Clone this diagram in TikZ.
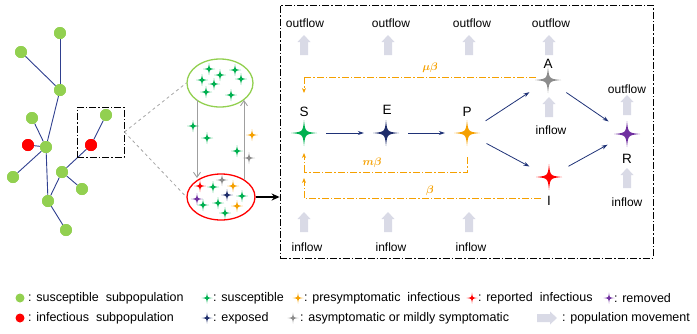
\documentclass[tikz,border=0pt]{standalone}
\usepackage{fontspec}
\setmainfont{Liberation Sans}
\usepackage{bm}
\usetikzlibrary{arrows.meta,calc,shapes.geometric}
\definecolor{sgreen}{HTML}{00B050}
\definecolor{lgreen}{HTML}{92D050}
\definecolor{navy}{HTML}{1F2D6B}
\definecolor{orng}{HTML}{F5A000}
\definecolor{sgray}{HTML}{8C8C8C}
\definecolor{purp}{HTML}{7030A0}
\definecolor{flowc}{HTML}{D9DAE6}
\definecolor{edgec}{HTML}{2F3F8F}
\definecolor{arrc}{HTML}{1F3277}
\begin{document}
\begin{tikzpicture}[x=1pt,y=-1pt,
  fourstar/.pic={\path[pic actions] (0,-1) .. controls (0.09,-0.09) and (0.09,-0.09) .. (1,0) .. controls (0.09,0.09) and (0.09,0.09) .. (0,1) .. controls (-0.09,0.09) and (-0.09,0.09) .. (-1,0) .. controls (-0.09,-0.09) and (-0.09,-0.09) .. cycle;},
  upflow/.pic={\fill[flowc] (-4,0) -- (-4,-13) -- (-6.5,-13) -- (0,-20) -- (6.5,-13) -- (4,-13) -- (4,0) -- cycle;},
  net/.style={draw=edgec, line width=0.9pt},
  sub/.style={circle, inner sep=0pt, minimum size=12pt},
  susc/.style={sub, fill=lgreen},
  infc/.style={sub, fill=red},
  dashdot/.style={dash pattern=on 7pt off 2pt on 1.5pt off 2pt},
  hole/.style={circle, inner sep=0pt, minimum size=44pt},
  lbl/.style={font=\fontsize{12}{14}\selectfont, inner sep=0pt},
  stlbl/.style={font=\fontsize{13.5}{15}\selectfont, inner sep=0pt},
  rate/.style={text=orng, font=\fontsize{11}{13}\selectfont, inner sep=0pt},
  leg/.style={font=\fontsize{12.5}{14}\selectfont, inner sep=0pt, anchor=west},
  flow/.style={draw=arrc, line width=0.8pt, -{Stealth[length=6pt,width=4pt]}},
  oline/.style={draw=orng, line width=0.9pt, dashdot},
  otip/.style={-{Stealth[length=5pt,width=4pt]}},
  garr/.style={draw=gray!75, line width=0.9pt, -{Straight Barb[length=5pt,width=7pt]}}
]
\useasboundingbox (0,0) rectangle (697,333);

% ---------- network ----------
\node[susc] (n1) at (60,33) {};
\node[susc] (n2) at (21,52) {};
\node[susc] (n3) at (60,90) {};
\node[susc] (n4) at (32,118) {};
\node[infc] (n5) at (28,145) {};
\node[susc] (n6) at (46,147) {};
\node[infc] (n7) at (91,145) {};
\node[susc] (n8) at (106,115) {};
\node[susc] (n9) at (13,177) {};
\node[susc] (n10) at (62,172) {};
\node[susc] (n11) at (82,189) {};
\node[susc] (n12) at (48,201) {};
\node[susc] (n13) at (66,230) {};
\draw[net] (n1) -- (n3);
\draw[net] (n2) -- (n3);
\draw[net] (n3) -- (n6);
\draw[net] (n4) -- (n6);
\draw[net] (n5) -- (n6);
\draw[net] (n9) -- (n6);
\draw[net] (n6) -- (n12);
\draw[net] (n12) -- (n10);
\draw[net] (n10) -- (n11);
\draw[net] (n10) -- (n7);
\draw[net] (n7) -- (n8);
\draw[net] (n12) -- (n13);
% redraw nodes on top
\foreach \n/\c in {n1/lgreen,n2/lgreen,n3/lgreen,n4/lgreen,n5/red,n6/lgreen,n7/red,n8/lgreen,n9/lgreen,n10/lgreen,n11/lgreen,n12/lgreen,n13/lgreen}
  \fill[\c] (\n) circle (6pt);

\node[draw, line width=0.8pt, dashdot, minimum width=47pt, minimum height=50pt, inner sep=0pt] (zbox) at (100.5,132) {};

% ---------- ellipses ----------
\node[ellipse, draw=lgreen, line width=1.3pt, minimum width=66pt, minimum height=48pt, inner sep=0pt] (gell) at (220,83) {};
\node[ellipse, draw=red, line width=1.3pt, minimum width=68pt, minimum height=46pt, inner sep=0pt] (rell) at (221,197) {};
\draw[gray!70, line width=0.8pt, dashed] (zbox.east) -- (gell.west);
\draw[gray!70, line width=0.8pt, dashed] (zbox.east) -- (rell.west);

\coordinate (g1) at (197,100);
\coordinate (r1) at (197,178);
\coordinate (g2) at (244,100);
\coordinate (r2) at (244,180);
\draw[garr] (g1) -- (r1);
\draw[garr] (r2) -- (g2);

% stars inside green ellipse
\foreach \p in {(209,69),(220,75),(235,70),(202,80),(214,84),(241,79),(206,92),(231,95)}
  \pic[fill=sgreen, scale=6] at \p {fourstar};
% moving stars
\foreach \p in {(193,126),(207,138),(237,151)}
  \pic[fill=sgreen, scale=6] at \p {fourstar};
\pic[fill=orng, scale=6] at (252,135) {fourstar};
\pic[fill=sgray, scale=6] at (249,158) {fourstar};
% stars inside red ellipse
\pic[fill=red, scale=6] at (200,186) {fourstar};
\pic[fill=sgreen, scale=6] at (213,187) {fourstar};
\pic[fill=sgray, scale=6] at (222,180) {fourstar};
\pic[fill=orng, scale=6] at (233,186) {fourstar};
\pic[fill=purp, scale=6] at (197,199) {fourstar};
\pic[fill=sgreen, scale=6] at (203,205) {fourstar};
\pic[fill=navy, scale=6] at (227,195) {fourstar};
\pic[fill=sgreen, scale=6] at (242,196) {fourstar};
\pic[fill=sgreen, scale=6] at (218,203) {fourstar};
\pic[fill=orng, scale=6] at (237,206) {fourstar};
\pic[fill=sgreen, scale=6] at (225,213) {fourstar};

% ---------- main box ----------
\node[draw, line width=0.8pt, dashdot, minimum width=373pt, minimum height=253pt, inner sep=0pt] (mbox) at (466.5,131.5) {};
\draw[line width=2pt, -{Stealth[length=8pt,width=7pt]}] (rell.east) -- (rell.east -| mbox.west);

% compartments
\node[hole] (S) at (304,133) {};
\node[hole] (E) at (386,133) {};
\node[hole] (P) at (467,133) {};
\node[hole] (A) at (548,80) {};
\node[hole] (I) at (549,177) {};
\node[hole] (R) at (627,134) {};
\pic[fill=sgreen, scale=13] at (S) {fourstar};
\pic[fill=navy, scale=13] at (E) {fourstar};
\pic[fill=orng, scale=13] at (P) {fourstar};
\pic[fill=sgray, scale=13] at (A) {fourstar};
\pic[fill=red, scale=13] at (I) {fourstar};
\pic[fill=purp, scale=13] at (R) {fourstar};
\node[stlbl] (Sl) at (304,112) {S};
\node[stlbl] (El) at (387,110) {E};
\node[stlbl] (Pl) at (467,112) {P};
\node[stlbl] (Al) at (548,64) {A};
\node[stlbl] (Rl) at (627,159) {R};
\node[stlbl] (Il) at (549,201) {I};

\draw[flow] (S) -- (E);
\draw[flow] (E) -- (P);
\draw[flow] (P) -- (A);
\draw[flow] (P) -- (I);
\draw[flow] (A) -- (R);
\draw[flow] (I) -- (R);

% transmission (orange)
\coordinate (mu0) at (536,77);
\coordinate (St1) at (304,93);
\coordinate (m0) at (467,157);
\coordinate (St2) at (304,153);
\coordinate (b0) at (541,198);
\coordinate (St3) at (304,178);
\draw[oline] (mu0) -- (mu0 -| St1);
\draw[oline, otip] (mu0 -| St1) -- (St1);
\draw[oline] (m0) -- (m0 |- 0,172) -- (St2 |- 0,172);
\draw[oline, otip] (St2 |- 0,172) -- (St2);
\draw[oline] (b0) -- (b0 -| St3);
\draw[oline, otip] (b0 -| St3) -- (St3);
\node[rate] (mub) at (430,68) {$\bm{\mu\beta}$};
\node[rate] (mb) at (372,163) {$\bm{m\beta}$};
\node[rate] (bb) at (430,191) {$\bm{\beta}$};

% population flows
\foreach \x in {304,388,469,549} \pic at (\x,55) {upflow};
\node[lbl] (o1) at (305,23) {outflow};
\node[lbl] (o2) at (391,23) {outflow};
\node[lbl] (o3) at (472,23) {outflow};
\node[lbl] (o4) at (551,23) {outflow};
\pic at (549,117) {upflow};
\node[lbl] (iA) at (551,130) {inflow};
\pic at (627,115) {upflow};
\node[lbl] (oR) at (627,89) {outflow};
\pic at (627,188) {upflow};
\node[lbl] (iR) at (627,202) {inflow};
\foreach \x in {304,388,469} \pic at (\x,232) {upflow};
\node[lbl] (i1) at (307,247) {inflow};
\node[lbl] (i2) at (391,247) {inflow};
\node[lbl] (i3) at (471,247) {inflow};

% ---------- legend ----------
\fill[lgreen] (20,298) circle (4.5pt);
\node[leg] (t1) at (28,298) {: susceptible\ \ subpopulation};
\pic[fill=sgreen, scale=5.5] at (207,298) {fourstar};
\node[leg] (t2) at (213,298) {: susceptible};
\pic[fill=orng, scale=5.5] at (298,298) {fourstar};
\node[leg] (t3) at (304,298) {: presymptomatic\ \ infectious};
\pic[fill=red, scale=5.5] at (472,298) {fourstar};
\node[leg] (t4) at (478,298) {: reported\ \ infectious};
\pic[fill=purp, scale=5.5] at (609,298) {fourstar};
\node[leg] (t5) at (614,298) {: removed};

\fill[red] (20,318) circle (4.5pt);
\node[leg] (u1) at (28,318) {: infectious\ \ subpopulation};
\pic[fill=navy, scale=5.5] at (207,318) {fourstar};
\node[leg] (u2) at (213,318) {: exposed};
\pic[fill=sgray, scale=5.5] at (293,318) {fourstar};
\node[leg] (u3) at (300,318) {: asymptomatic or mildly symptomatic};
\pic[rotate=-90] at (537,318) {upflow};
\node[leg] (u4) at (562,318) {: population movement};
\end{tikzpicture}
\end{document}
